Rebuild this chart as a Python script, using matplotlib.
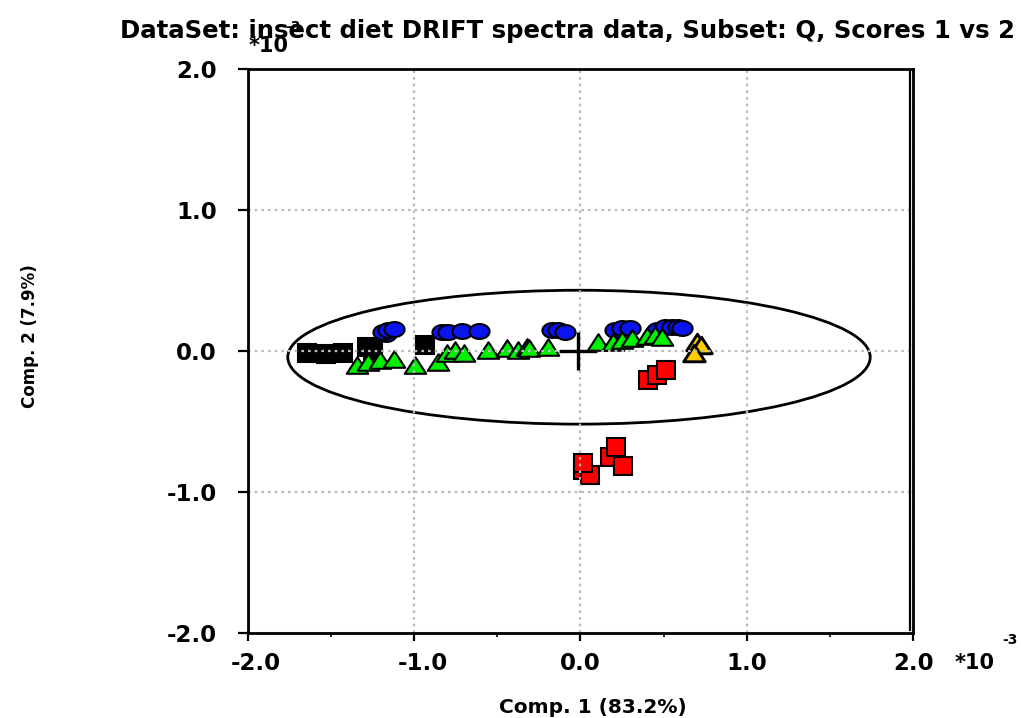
import numpy as np
import matplotlib
matplotlib.use("Agg")
import matplotlib.pyplot as plt
from matplotlib.path import Path
from matplotlib.patches import Ellipse
from matplotlib.transforms import ScaledTranslation
from matplotlib.ticker import MultipleLocator, FormatStrFormatter

plt.rcParams['font.family'] = ['DejaVu Sans']
plt.rcParams['font.weight'] = 'bold'

# Scores (units of 1e-3), grouped by diet class
black_x = [-1.645, -1.529, -1.425, -1.285, -1.247, -0.934]
black_y = [-0.017, -0.024, -0.013, 0.030, 0.006, 0.042]

blue_x = [-1.169, -1.187, -1.157, -1.121, -0.834, -0.796, -0.714, -0.608,
          -0.173, -0.135, -0.093, 0.207, 0.248, 0.297, 0.460, 0.508,
          0.548, 0.588, 0.608]
blue_y = [0.120, 0.134, 0.148, 0.155, 0.136, 0.134, 0.143, 0.143,
          0.148, 0.148, 0.136, 0.148, 0.163, 0.163, 0.148, 0.172,
          0.172, 0.172, 0.163]

green_x = [-1.345, -1.277, -1.205, -1.121, -0.995, -0.858, -0.804, -0.754,
           -0.700, -0.556, -0.444, -0.376, -0.323, -0.310, -0.195, 0.105,
           0.195, 0.248, 0.308, 0.398, 0.448, 0.488]
green_y = [-0.100, -0.079, -0.065, -0.057, -0.100, -0.079, -0.015, 0.006,
           -0.015, 0.006, 0.021, 0.006, 0.028, 0.021, 0.028, 0.065,
           0.065, 0.077, 0.092, 0.106, 0.113, 0.101]

gold_x = [0.700, 0.724, 0.682]
gold_y = [0.063, 0.042, -0.015]

red_x = [0.407, 0.458, 0.514, 0.013, 0.057, 0.013, 0.177, 0.213, 0.254]
red_y = [-0.207, -0.171, -0.136, -0.845, -0.881, -0.796, -0.753, -0.681, -0.816]

center_x, center_y = -0.015, 0.0
ell_cx, ell_cy = -0.009, -0.045
ell_w, ell_h = 3.50, 0.95

ticks = [-2.0, -1.0, 0.0, 1.0, 2.0]

# marker shapes: flattened ellipse and a squat triangle
t = np.linspace(0, 2 * np.pi, 60)
oval = Path(np.column_stack([np.cos(t), 0.74 * np.sin(t)]), closed=True)
tri = Path([(-1, -0.77), (1, -0.77), (0, 0.77), (-1, -0.77)], closed=True)

fig = plt.figure(figsize=(10.21, 7.18), dpi=100)
ax = fig.add_axes([0.2426, 0.1188, 0.6519, 0.7851])
ax.set_xlim(-2, 2)
ax.set_ylim(-2, 2)

# dotted grid sits on top of the markers
ax.set_axisbelow(False)
ax.grid(True, which='major', color='#bbbbbb', linestyle=(0, (1.2, 1.8)),
        linewidth=1.6)

ax.add_patch(Ellipse((ell_cx, ell_cy), ell_w, ell_h, fill=False,
                     edgecolor='black', linewidth=2.0, zorder=1.5))

ec = 'black'
mew = 1.5
ax.plot(black_x, black_y, linestyle='none', marker='s', markersize=13.0,
        markerfacecolor='black', markeredgecolor=ec, markeredgewidth=mew, zorder=2.0)
ax.plot(blue_x, blue_y, linestyle='none', marker=oval, markersize=14.5,
        markerfacecolor='#0a14f0', markeredgecolor=ec, markeredgewidth=mew, zorder=2.1)
ax.plot(green_x, green_y, linestyle='none', marker=tri, markersize=15.5,
        markerfacecolor='#00ee00', markeredgecolor=ec, markeredgewidth=mew, zorder=2.2)
ax.plot(gold_x, gold_y, linestyle='none', marker=tri, markersize=15.5,
        markerfacecolor='#ffcc00', markeredgecolor=ec, markeredgewidth=mew * 1.4, zorder=2.3)
ax.plot(red_x, red_y, linestyle='none', marker='s', markersize=13.0,
        markerfacecolor='#ff0000', markeredgecolor=ec, markeredgewidth=mew, zorder=2.3)
ax.plot([center_x], [center_y], linestyle='none', marker='+', markersize=27,
        markeredgewidth=2.4, color='black', zorder=3)

ax.set_xticks(ticks)
ax.set_yticks(ticks)
ax.xaxis.set_minor_locator(MultipleLocator(0.5))
ax.xaxis.set_major_formatter(FormatStrFormatter('%.1f'))
ax.yaxis.set_major_formatter(FormatStrFormatter('%.1f'))
ax.tick_params(axis='both', which='major', direction='out', width=1.6,
               labelsize=16.5, color='black')
ax.tick_params(axis='x', which='major', length=6, pad=8)
ax.tick_params(axis='y', which='major', length=7.2, pad=15)
ax.tick_params(axis='x', which='minor', direction='out', length=3, width=1.2)
for lab in ax.get_xticklabels() + ax.get_yticklabels():
    lab.set_fontweight('bold')

# negative x labels are centred on their digits
shift = ScaledTranslation(6 / 72, 0, fig.dpi_scale_trans)
for val, lab in zip(ticks, ax.get_xticklabels()):
    if val < 0:
        lab.set_transform(lab.get_transform() + shift)

for s in ax.spines.values():
    s.set_linewidth(2.0)
    s.set_zorder(6)

# inner line just left of the right spine
ax.plot([0.9955, 0.9955], [0.004, 0.998], transform=ax.transAxes, color='black',
        linewidth=1.6, clip_on=False, zorder=6)

ax.set_xlabel('Comp. 1 (83.2%)', fontsize=14.5, fontweight='bold', va='center')
ax.xaxis.set_label_coords(0.519, -0.132)
ax.set_ylabel('Comp. 2 (7.9%)', fontsize=12, fontweight='bold', va='center')
ax.yaxis.set_label_coords(-0.327, 0.526)

fig.text(0.556, 0.957, 'DataSet: insect diet DRIFT spectra data, Subset: Q, Scores 1 vs 2',
         ha='center', va='center', fontsize=17.6, fontweight='bold')

# exponent markers for both axes
fig.text(0.243, 0.936, '*10', fontsize=15, fontweight='bold', ha='left', va='center')
fig.text(0.279, 0.962, '-3', fontsize=10, fontweight='bold', ha='left', va='center')
fig.text(0.935, 0.0766, '*10', fontsize=15, fontweight='bold', ha='left', va='center')
fig.text(0.982, 0.1086, '-3', fontsize=10, fontweight='bold', ha='left', va='center')

fig.savefig('out.png', dpi=100)
